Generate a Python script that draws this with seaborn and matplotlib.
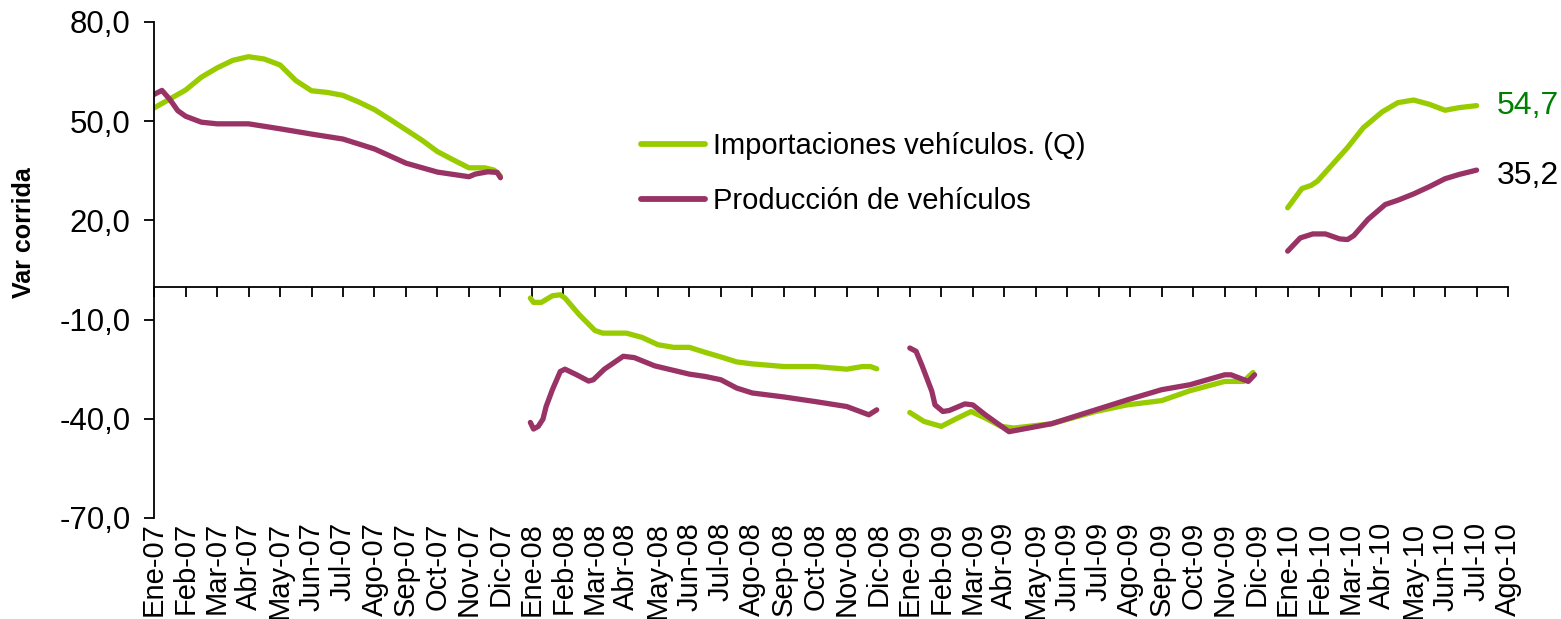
import numpy as np
import pandas as pd
import matplotlib
matplotlib.use("Agg")
import matplotlib.pyplot as plt
import seaborn as sns

# ---------------- data ----------------
meses = ["Ene-07", "Feb-07", "Mar-07", "Abr-07", "May-07", "Jun-07", "Jul-07", "Ago-07",
         "Sep-07", "Oct-07", "Nov-07", "Dic-07",
         "Ene-08", "Feb-08", "Mar-08", "Abr-08", "May-08", "Jun-08", "Jul-08", "Ago-08",
         "Sep-08", "Oct-08", "Nov-08", "Dic-08",
         "Ene-09", "Feb-09", "Mar-09", "Abr-09", "May-09", "Jun-09", "Jul-09", "Ago-09",
         "Sep-09", "Oct-09", "Nov-09", "Dic-09",
         "Ene-10", "Feb-10", "Mar-10", "Abr-10", "May-10", "Jun-10", "Jul-10", "Ago-10"]

y_ticks = [-70, -40, -10, 20, 50, 80]
y_tick_labels = ["-70,0", "-40,0", "-10,0", "20,0", "50,0", "80,0"]

serie_imp = "Importaciones vehículos. (Q)"
serie_prod = "Producción de vehículos"

# x = position in months from Ene-07 (0)
imp_2007_x = [0, 1, 1.5, 2, 2.5, 3, 3.5, 4, 4.5, 5, 5.5, 6, 6.5, 7, 7.5, 8, 8.5, 9, 9.5, 10, 10.5, 10.8, 11]
imp_2007_y = [54.0, 59.4, 63.3, 66.1, 68.4, 69.5, 68.8, 67.0, 62.3, 59.2, 58.7, 57.8, 55.8, 53.5, 50.5,
              47.4, 44.3, 40.8, 38.3, 35.9, 35.9, 35.2, 33.4]
prod_2007_x = [0, 0.25, 0.5, 0.75, 1, 1.5, 2, 3, 4, 5, 6, 7, 8, 9, 10, 10.2, 10.6, 10.9, 11]
prod_2007_y = [58.1, 59.3, 56.6, 53.2, 51.5, 49.7, 49.2, 49.2, 47.7, 46.1, 44.6, 41.6, 37.3, 34.6,
               33.2, 34.0, 34.7, 34.5, 32.9]

imp_2008_x = [11.95, 12.05, 12.3, 12.65, 12.9, 13.05, 13.5, 14, 14.25, 15, 15.5, 16, 16.5, 17, 17.5,
              18, 18.5, 19, 20, 21, 22, 22.5, 22.75, 22.95]
imp_2008_y = [-3.5, -4.8, -4.8, -2.8, -2.5, -3.5, -8.5, -13.3, -14.1, -14.1, -15.4, -17.6, -18.4,
              -18.4, -19.9, -21.3, -22.8, -23.4, -24.2, -24.2, -25.0, -24.2, -24.2, -24.9]
prod_2008_x = [11.95, 12.05, 12.2, 12.35, 12.45, 12.65, 12.9, 13.05, 13.4, 13.8, 13.95, 14.3, 14.9,
               15.25, 15.9, 17, 17.5, 18, 18.5, 19, 20, 21, 22, 22.7, 22.95]
prod_2008_y = [-41.1, -43.1, -42.3, -40.1, -36.3, -31.2, -25.7, -25.0, -26.6, -28.6, -28.2, -25.0,
               -21.1, -21.5, -24.0, -26.5, -27.2, -28.2, -30.7, -32.2, -33.4, -34.8, -36.3, -38.8, -37.3]

imp_2009_x = [24, 24.45, 25, 25.45, 25.95, 26.4, 26.9, 27.3, 28.5, 29.9, 30.9, 32, 32.9, 34, 34.6, 34.9]
imp_2009_y = [-38.1, -40.8, -42.3, -40.1, -37.8, -39.8, -42.3, -42.8, -41.5, -37.8, -35.8, -34.5,
              -31.5, -28.7, -28.7, -26.0]
prod_2009_x = [24, 24.2, 24.4, 24.7, 24.8, 25.05, 25.25, 25.75, 26, 26.4, 27.15, 28.5, 29.9, 30.9,
               32, 32.9, 34, 34.2, 34.75, 34.95]
prod_2009_y = [-18.6, -19.6, -24.2, -31.7, -35.8, -37.8, -37.5, -35.5, -35.8, -38.8, -43.9, -41.5,
               -37.3, -34.3, -31.2, -29.7, -26.7, -26.7, -28.7, -26.7]

imp_2010_x = [36, 36.45, 36.75, 36.95, 37.9, 38.4, 39, 39.5, 40, 40.5, 41, 41.45, 42]
imp_2010_y = [23.8, 29.6, 30.6, 31.9, 42.0, 48.0, 52.8, 55.6, 56.4, 55.1, 53.3, 54.1, 54.7]
prod_2010_x = [36, 36.4, 36.8, 37.2, 37.65, 37.9, 38.1, 38.55, 39.1, 39.5, 40, 40.5, 41, 41.45, 42]
prod_2010_y = [10.7, 14.7, 15.9, 15.9, 14.4, 14.2, 15.4, 20.3, 24.8, 26.1, 28.0, 30.2, 32.6, 33.9, 35.2]

ultimo_imp = "54,7"
ultimo_prod = "35,2"

# ---------------- table ----------------
tramos = [
    (serie_imp, "2007", imp_2007_x, imp_2007_y),
    (serie_imp, "2008", imp_2008_x, imp_2008_y),
    (serie_imp, "2009", imp_2009_x, imp_2009_y),
    (serie_imp, "2010", imp_2010_x, imp_2010_y),
    (serie_prod, "2007", prod_2007_x, prod_2007_y),
    (serie_prod, "2008", prod_2008_x, prod_2008_y),
    (serie_prod, "2009", prod_2009_x, prod_2009_y),
    (serie_prod, "2010", prod_2010_x, prod_2010_y),
]
frames = []
for serie, anio, xs, ys in tramos:
    frames.append(pd.DataFrame({"mes": xs, "valor": ys, "serie": serie, "tramo": anio}))
df = pd.concat(frames, ignore_index=True)

# ---------------- style ----------------
sns.set_style("white")
plt.rcParams["font.family"] = ["Liberation Sans", "DejaVu Sans"]
plt.rcParams["text.color"] = "black"
plt.rcParams["axes.labelcolor"] = "black"
plt.rcParams["xtick.color"] = "black"
plt.rcParams["ytick.color"] = "black"

c_imp = "#99CC00"
c_prod = "#993366"
fs = 21

fig = plt.figure(figsize=(15.61, 6.19), dpi=100)
ax = fig.add_axes([0.0987, 0.1632, 0.8674, 0.8013])

sns.lineplot(data=df, x="mes", y="valor", hue="serie", units="tramo", estimator=None,
             sort=False, hue_order=[serie_imp, serie_prod],
             palette={serie_imp: c_imp, serie_prod: c_prod},
             linewidth=3.8, ax=ax)

ax.set_xlim(0, 43)
ax.set_ylim(-70, 80)

# y axis
ax.set_yticks(y_ticks)
ax.set_yticklabels(y_tick_labels)
ax.tick_params(axis="y", left=True, direction="out", length=7, width=1.3, pad=10,
               labelsize=22.5, colors="black")
ax.set_ylabel("Var corrida", fontsize=18, fontweight="bold", color="black")
ax.yaxis.set_label_coords(-0.087, 0.575)

# x labels at bottom
ax.set_xticks(np.arange(len(meses)))
ax.set_xticklabels(meses, rotation=90)
ax.tick_params(axis="x", bottom=True, length=0, pad=3, labelsize=fs, colors="black")
ax.set_xlabel("")

for s in ["top", "right", "bottom"]:
    ax.spines[s].set_visible(False)
ax.spines["left"].set_linewidth(1.3)
ax.spines["left"].set_color("black")

# zero line axis with tick marks
sec = ax.secondary_xaxis(70 / 150)
sec.set_xticks(np.arange(len(meses)))
sec.tick_params(axis="x", direction="out", length=7, width=1.3, labelbottom=False,
                labeltop=False, colors="black")
sec.spines["bottom"].set_linewidth(1.3)
sec.spines["bottom"].set_color("black")

# legend
handles, labels = ax.get_legend_handles_labels()
if ax.get_legend() is not None:
    ax.get_legend().remove()
leg = ax.legend(handles, labels, loc="center left",
                bbox_to_anchor=(641 / 1561, 1 - 173.5 / 619), bbox_transform=fig.transFigure,
                frameon=False, borderpad=0, borderaxespad=0, handlelength=2.2,
                handletextpad=0.28, labelspacing=0.93, fontsize=fs)
for h in leg.get_lines():
    h.set_linewidth(4.2)
for t in leg.get_texts():
    t.set_color("black")

# end labels
ax.annotate(ultimo_imp, xy=(imp_2010_x[-1], imp_2010_y[-1]), xytext=(14.5, 0),
            textcoords="offset points", ha="left", va="center", fontsize=23, color="#008000")
ax.annotate(ultimo_prod, xy=(prod_2010_x[-1], prod_2010_y[-1]), xytext=(14.5, -4.5),
            textcoords="offset points", ha="left", va="center", fontsize=23, color="black")

fig.savefig("out.png", dpi=100)
